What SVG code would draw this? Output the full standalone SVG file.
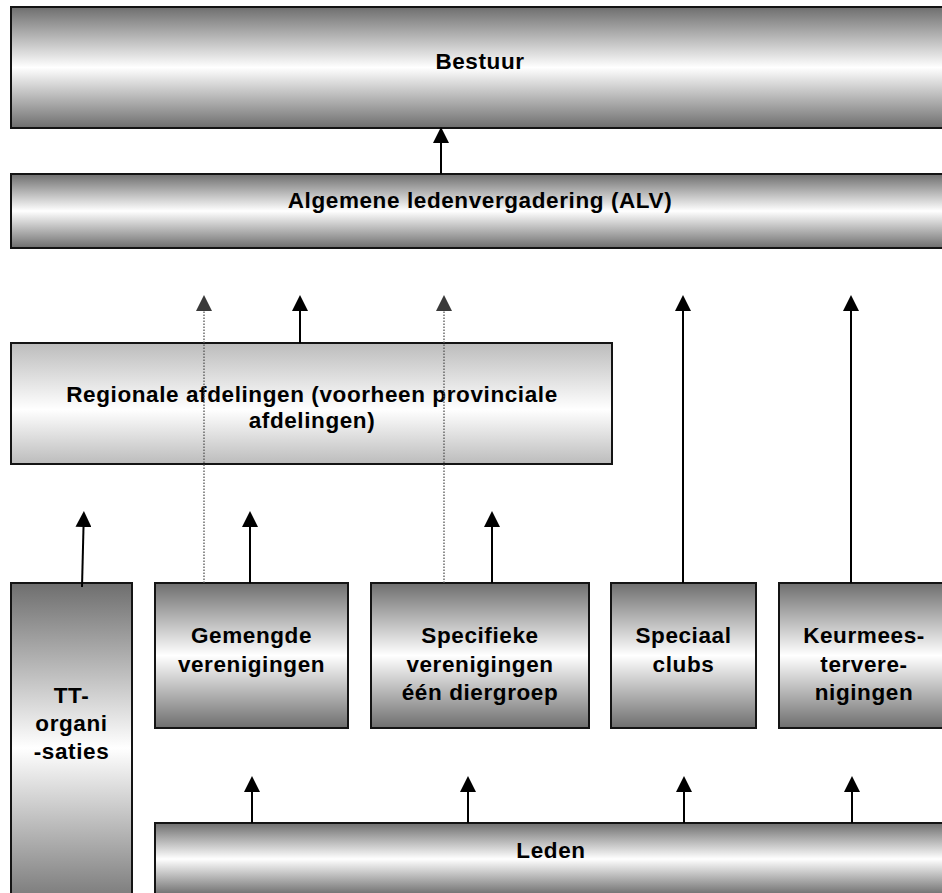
<svg xmlns="http://www.w3.org/2000/svg" width="942" height="893" viewBox="0 0 942 893">
<style>
.box{stroke:#141414;stroke-width:2}
.dark{fill:url(#gDark)}
.light{fill:url(#gLight)}
.lbl{font-family:"Liberation Sans",Arial,sans-serif;font-weight:bold;font-size:22.5px;letter-spacing:0.6px;fill:#000;text-anchor:middle}
.arr{stroke:#000;stroke-width:2;fill:none;marker-end:url(#ah)}
.dot{stroke:#555;stroke-width:1.3;stroke-dasharray:1.5 1.5;fill:none;marker-end:url(#ahd)}
</style>
<defs>
<linearGradient id="gDark" x1="0" y1="0" x2="0" y2="1">
<stop offset="0" stop-color="#6e6e6e"/>
<stop offset="0.5" stop-color="#ffffff"/>
<stop offset="1" stop-color="#6e6e6e"/>
</linearGradient>
<linearGradient id="gLight" x1="0" y1="0" x2="0" y2="1">
<stop offset="0" stop-color="#bcbcbc"/>
<stop offset="0.55" stop-color="#ffffff"/>
<stop offset="1" stop-color="#bcbcbc"/>
</linearGradient>
<marker id="ah" markerUnits="userSpaceOnUse" markerWidth="16" markerHeight="16" refX="0" refY="7.5" orient="auto" viewBox="0 0 15 15">
<path d="M0,0 L15,7.5 L0,15 z" fill="#000"/>
</marker>
<marker id="ahd" markerUnits="userSpaceOnUse" markerWidth="16" markerHeight="16" refX="0" refY="7.5" orient="auto" viewBox="0 0 15 15">
<path d="M0,0 L15,7.5 L0,15 z" fill="#3a3a3a"/>
</marker>
</defs>

<g id="bestuur">
<rect class="box dark" x="11" y="7" width="940" height="121"/>
<text class="lbl" x="480" y="69">Bestuur</text>
</g>
<g id="alv">
<rect class="box dark" x="11" y="174" width="940" height="74"/>
<text class="lbl" x="480" y="208">Algemene ledenvergadering (ALV)</text>
</g>
<g id="regionale">
<rect class="box light" x="11" y="343" width="601" height="121"/>
<text class="lbl" x="312" y="402">Regionale afdelingen (voorheen provinciale</text>
<text class="lbl" x="312" y="428">afdelingen)</text>
</g>
<g id="tt">
<rect class="box dark" x="11" y="583" width="121" height="330"/>
<text class="lbl" x="71.5" y="703">TT-</text>
<text class="lbl" x="71.5" y="731">organi</text>
<text class="lbl" x="71.5" y="759">-saties</text>
</g>
<g id="gemengde">
<rect class="box dark" x="155" y="583" width="193" height="145"/>
<text class="lbl" x="251.5" y="643">Gemengde</text>
<text class="lbl" x="251.5" y="672">verenigingen</text>
</g>
<g id="specifieke">
<rect class="box dark" x="371" y="583" width="218" height="145"/>
<text class="lbl" x="480" y="643">Specifieke</text>
<text class="lbl" x="480" y="672">verenigingen</text>
<text class="lbl" x="480" y="700">één diergroep</text>
</g>
<g id="speciaal">
<rect class="box dark" x="611" y="583" width="145" height="145"/>
<text class="lbl" x="683.5" y="643">Speciaal</text>
<text class="lbl" x="683.5" y="672">clubs</text>
</g>
<g id="keurmeester">
<rect class="box dark" x="779" y="583" width="170" height="145"/>
<text class="lbl" x="864" y="643">Keurmees-</text>
<text class="lbl" x="864" y="672">tervere-</text>
<text class="lbl" x="864" y="700">nigingen</text>
</g>
<g id="leden">
<rect class="box dark" x="155" y="823" width="795" height="72"/>
<text class="lbl" x="551" y="858">Leden</text>
</g>

<g id="connectors">
<line class="arr" x1="441" y1="174" x2="441" y2="143"/>
<line class="arr" x1="300" y1="343" x2="300" y2="311"/>
<line class="dot" x1="204" y1="583" x2="204" y2="311"/>
<line class="dot" x1="444" y1="583" x2="444" y2="311"/>
<line class="arr" x1="683" y1="583" x2="683" y2="311"/>
<line class="arr" x1="851" y1="583" x2="851" y2="311"/>
<line class="arr" x1="82" y1="587" x2="83.5" y2="527"/>
<line class="arr" x1="250" y1="583" x2="250" y2="527"/>
<line class="arr" x1="492" y1="583" x2="492" y2="527"/>
<line class="arr" x1="252" y1="823" x2="252" y2="792"/>
<line class="arr" x1="468" y1="823" x2="468" y2="792"/>
<line class="arr" x1="684" y1="823" x2="684" y2="792"/>
<line class="arr" x1="852" y1="823" x2="852" y2="792"/>
</g>
</svg>
